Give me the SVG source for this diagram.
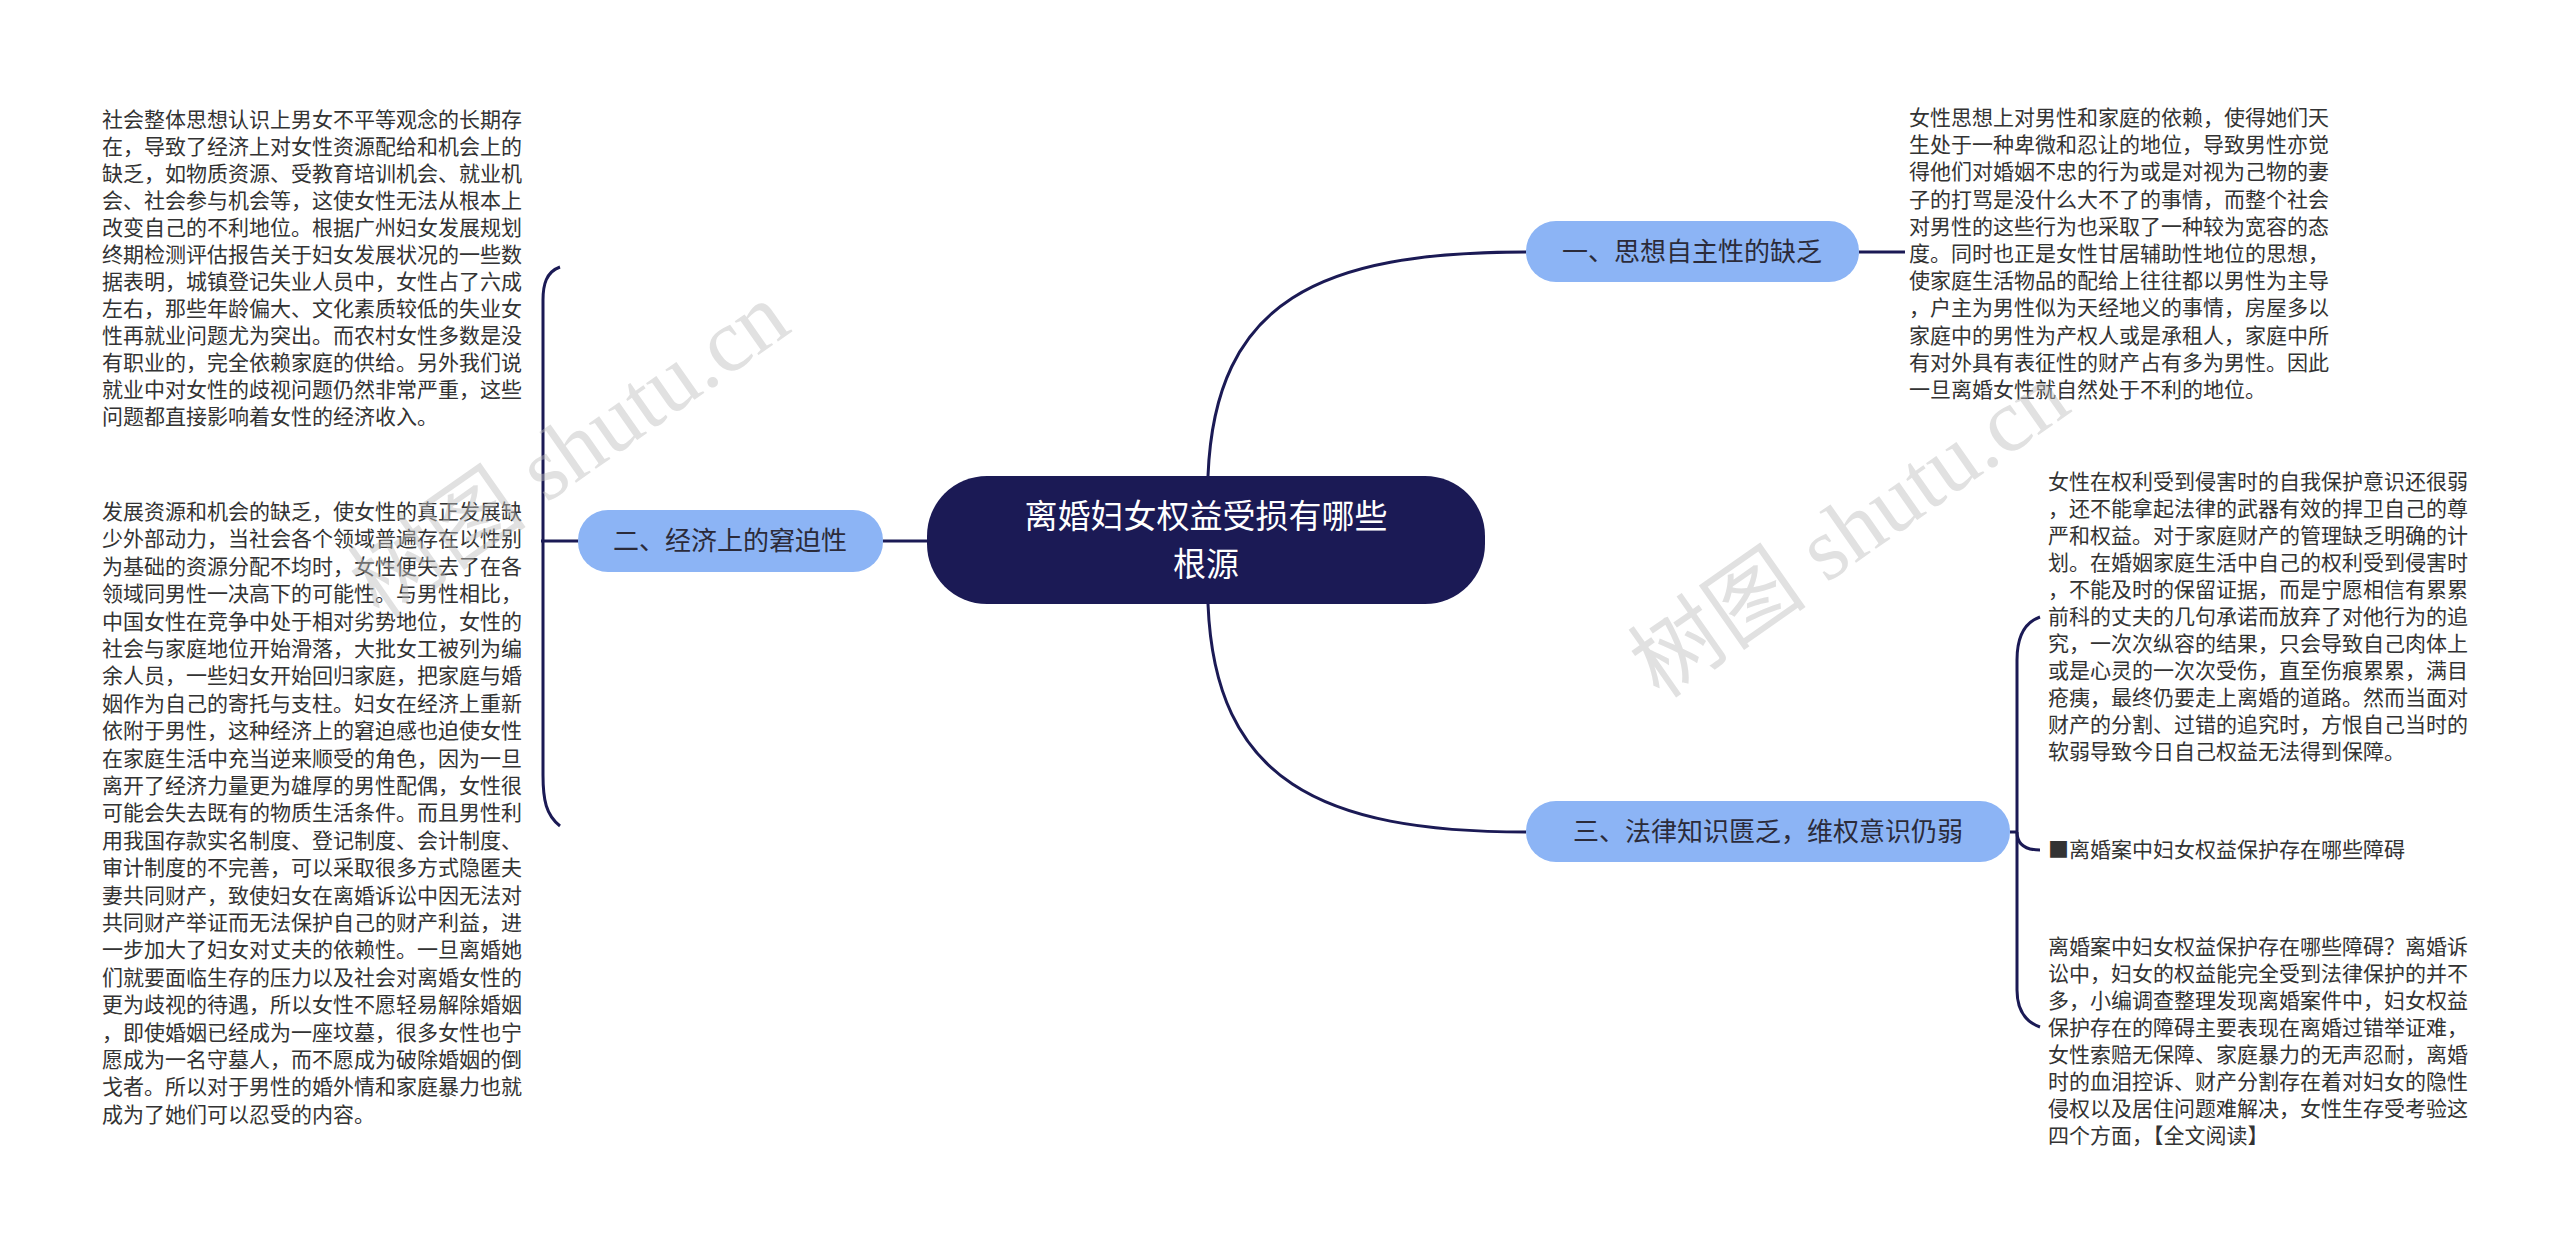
<svg xmlns="http://www.w3.org/2000/svg" width="2560" height="1244" viewBox="0 0 2560 1244">
<style>
.t{font-family:"Noto Sans CJK SC","Noto Sans",sans-serif;font-size:21px;fill:#333}
.b{fill:#8cb4f5}
.bl{font-family:"Noto Sans CJK SC",sans-serif;font-size:26px;fill:#2b2b3a}
.c{fill:none;stroke:#1b1a55;stroke-width:3}
.wm{font-family:"Liberation Serif","Noto Sans CJK SC",serif;font-size:90px;fill:#bdbdbd;opacity:0.45}
</style>
<rect width="2560" height="1244" fill="#fff"/>
<g id="connectors">
<path class="c" d="M1208,476 C1215,300 1320,252 1526,252"/>
<path class="c" d="M1208,604 C1215,780 1320,832 1526,832"/>
<path class="c" d="M927,541 H883"/>
<path class="c" d="M578,541 H541"/>
<path class="c" d="M560,267 C546,272 543,285 543,300 V775 C543,800 546,815 560,826"/>
<path class="c" d="M1859,252 H1905"/>
<path class="c" d="M2010,832 H2017"/>
<path class="c" d="M2040,617 C2026,622 2017,635 2017,660 V990 C2017,1010 2026,1022 2040,1027"/>
<path class="c" d="M2017,832 C2017,845 2026,850 2040,850"/>
</g>
<g id="center">
<rect x="927" y="476" width="558" height="128" rx="60" fill="#1b1a55"/>
<text x="1206" y="528" text-anchor="middle" style="font-family:'Noto Sans CJK SC',sans-serif;font-size:33px;fill:#fff">离婚妇女权益受损有哪些</text>
<text x="1206" y="576" text-anchor="middle" style="font-family:'Noto Sans CJK SC',sans-serif;font-size:33px;fill:#fff">根源</text>
</g>
<g id="n1"><rect class="b" x="1526" y="221" width="333" height="61" rx="30"/><text class="bl" x="1692" y="261" text-anchor="middle">一、思想自主性的缺乏</text></g>
<g id="n2"><rect class="b" x="578" y="510" width="305" height="62" rx="30"/><text class="bl" x="730" y="550" text-anchor="middle">二、经济上的窘迫性</text></g>
<g id="n3"><rect class="b" x="1526" y="801" width="484" height="61" rx="30"/><text class="bl" x="1768" y="841" text-anchor="middle">三、法律知识匮乏，维权意识仍弱</text></g>
<g id="leftTop" class="t">
<text x="102" y="127">社会整体思想认识上男女不平等观念的长期存</text>
<text x="102" y="154">在，导致了经济上对女性资源配给和机会上的</text>
<text x="102" y="181">缺乏，如物质资源、受教育培训机会、就业机</text>
<text x="102" y="208">会、社会参与机会等，这使女性无法从根本上</text>
<text x="102" y="235">改变自己的不利地位。根据广州妇女发展规划</text>
<text x="102" y="262">终期检测评估报告关于妇女发展状况的一些数</text>
<text x="102" y="289">据表明，城镇登记失业人员中，女性占了六成</text>
<text x="102" y="316">左右，那些年龄偏大、文化素质较低的失业女</text>
<text x="102" y="343">性再就业问题尤为突出。而农村女性多数是没</text>
<text x="102" y="370">有职业的，完全依赖家庭的供给。另外我们说</text>
<text x="102" y="397">就业中对女性的歧视问题仍然非常严重，这些</text>
<text x="102" y="424">问题都直接影响着女性的经济收入。</text>
</g>
<g id="leftBottom" class="t">
<text x="102" y="519">发展资源和机会的缺乏，使女性的真正发展缺</text>
<text x="102" y="546.4">少外部动力，当社会各个领域普遍存在以性别</text>
<text x="102" y="573.8">为基础的资源分配不均时，女性便失去了在各</text>
<text x="102" y="601.2">领域同男性一决高下的可能性。与男性相比，</text>
<text x="102" y="628.6">中国女性在竞争中处于相对劣势地位，女性的</text>
<text x="102" y="656">社会与家庭地位开始滑落，大批女工被列为编</text>
<text x="102" y="683.4">余人员，一些妇女开始回归家庭，把家庭与婚</text>
<text x="102" y="710.8">姻作为自己的寄托与支柱。妇女在经济上重新</text>
<text x="102" y="738.2">依附于男性，这种经济上的窘迫感也迫使女性</text>
<text x="102" y="765.6">在家庭生活中充当逆来顺受的角色，因为一旦</text>
<text x="102" y="793">离开了经济力量更为雄厚的男性配偶，女性很</text>
<text x="102" y="820.4">可能会失去既有的物质生活条件。而且男性利</text>
<text x="102" y="847.8">用我国存款实名制度、登记制度、会计制度、</text>
<text x="102" y="875.2">审计制度的不完善，可以采取很多方式隐匿夫</text>
<text x="102" y="902.6">妻共同财产，致使妇女在离婚诉讼中因无法对</text>
<text x="102" y="930">共同财产举证而无法保护自己的财产利益，进</text>
<text x="102" y="957.4">一步加大了妇女对丈夫的依赖性。一旦离婚她</text>
<text x="102" y="984.8">们就要面临生存的压力以及社会对离婚女性的</text>
<text x="102" y="1012.2">更为歧视的待遇，所以女性不愿轻易解除婚姻</text>
<text x="102" y="1039.6">，即使婚姻已经成为一座坟墓，很多女性也宁</text>
<text x="102" y="1067">愿成为一名守墓人，而不愿成为破除婚姻的倒</text>
<text x="102" y="1094.4">戈者。所以对于男性的婚外情和家庭暴力也就</text>
<text x="102" y="1121.8">成为了她们可以忍受的内容。</text>
</g>
<g id="rightTop" class="t">
<text x="1909" y="125">女性思想上对男性和家庭的依赖，使得她们天</text>
<text x="1909" y="152.2">生处于一种卑微和忍让的地位，导致男性亦觉</text>
<text x="1909" y="179.4">得他们对婚姻不忠的行为或是对视为己物的妻</text>
<text x="1909" y="206.6">子的打骂是没什么大不了的事情，而整个社会</text>
<text x="1909" y="233.8">对男性的这些行为也采取了一种较为宽容的态</text>
<text x="1909" y="261">度。同时也正是女性甘居辅助性地位的思想，</text>
<text x="1909" y="288.2">使家庭生活物品的配给上往往都以男性为主导</text>
<text x="1909" y="315.4">，户主为男性似为天经地义的事情，房屋多以</text>
<text x="1909" y="342.6">家庭中的男性为产权人或是承租人，家庭中所</text>
<text x="1909" y="369.8">有对外具有表征性的财产占有多为男性。因此</text>
<text x="1909" y="397">一旦离婚女性就自然处于不利的地位。</text>
</g>
<g id="rightMid" class="t">
<text x="2048" y="489">女性在权利受到侵害时的自我保护意识还很弱</text>
<text x="2048" y="516">，还不能拿起法律的武器有效的捍卫自己的尊</text>
<text x="2048" y="543">严和权益。对于家庭财产的管理缺乏明确的计</text>
<text x="2048" y="570">划。在婚姻家庭生活中自己的权利受到侵害时</text>
<text x="2048" y="597">，不能及时的保留证据，而是宁愿相信有累累</text>
<text x="2048" y="624">前科的丈夫的几句承诺而放弃了对他行为的追</text>
<text x="2048" y="651">究，一次次纵容的结果，只会导致自己肉体上</text>
<text x="2048" y="678">或是心灵的一次次受伤，直至伤痕累累，满目</text>
<text x="2048" y="705">疮痍，最终仍要走上离婚的道路。然而当面对</text>
<text x="2048" y="732">财产的分割、过错的追究时，方恨自己当时的</text>
<text x="2048" y="759">软弱导致今日自己权益无法得到保障。</text>
</g>
<g id="rightItem" class="t"><text x="2048" y="857">■离婚案中妇女权益保护存在哪些障碍</text></g>
<g id="rightBottom" class="t">
<text x="2048" y="954">离婚案中妇女权益保护存在哪些障碍？离婚诉</text>
<text x="2048" y="981">讼中，妇女的权益能完全受到法律保护的并不</text>
<text x="2048" y="1008">多，小编调查整理发现离婚案件中，妇女权益</text>
<text x="2048" y="1035">保护存在的障碍主要表现在离婚过错举证难，</text>
<text x="2048" y="1062">女性索赔无保障、家庭暴力的无声忍耐，离婚</text>
<text x="2048" y="1089">时的血泪控诉、财产分割存在着对妇女的隐性</text>
<text x="2048" y="1116">侵权以及居住问题难解决，女性生存受考验这</text>
<text x="2048" y="1143">四个方面，【全文阅读】</text>
</g>
<g id="watermarks">
<text class="wm" x="380" y="620" transform="rotate(-35 380 620)">树图 shutu.cn</text>
<text class="wm" x="1660" y="700" transform="rotate(-35 1660 700)">树图 shutu.cn</text>
</g>
</svg>
